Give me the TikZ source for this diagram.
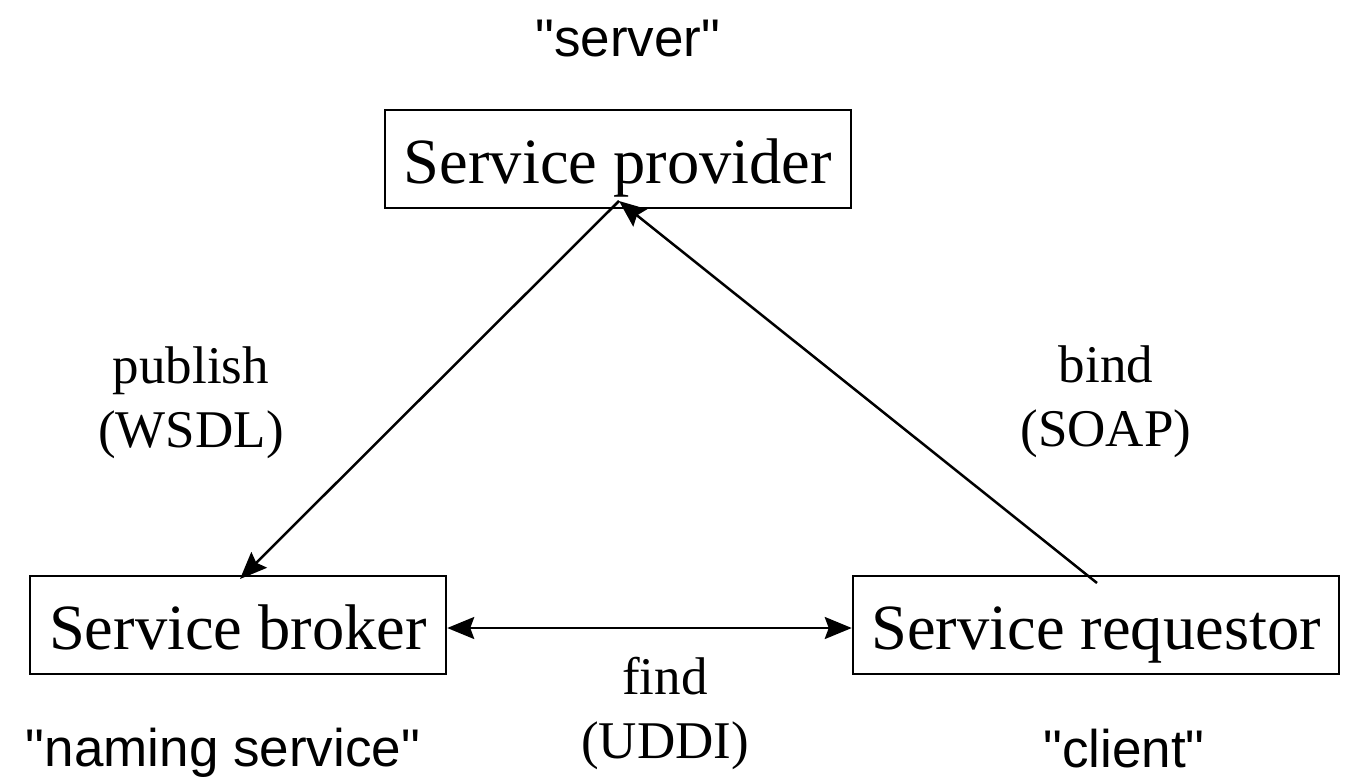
\documentclass[tikz,border=0pt]{standalone}
\usepackage{fontspec}
\setmainfont{Liberation Serif}
\setsansfont{Liberation Sans}
\usetikzlibrary{arrows.meta}
\newcommand{\qq}{\textquotedbl}
\begin{document}
\begin{tikzpicture}[x=1pt,y=-1pt,
  box/.style={draw,line width=2.5pt,inner sep=0pt,text height=54pt,text depth=6pt,font=\fontsize{64.5}{70}\selectfont},
  lbl/.style={align=center,font=\fontsize{53}{64}\selectfont},
  quote/.style={anchor=base,font=\sffamily\fontsize{53}{60}\selectfont},
  conn/.style={line width=2.5pt,-{Stealth[length=27pt,width=22pt,inset=4pt]}},
  conn2/.style={line width=2.5pt,{Stealth[length=27pt,width=22pt,inset=4pt]}-{Stealth[length=27pt,width=22pt,inset=4pt]}}]
\useasboundingbox (0,0) rectangle (1360,782);
\node[box,minimum width=466pt,minimum height=98pt] (prov) at (618,159) {Service provider};
\node[box,minimum width=416pt,minimum height=98pt] (brok) at (238,625) {Service broker};
\node[box,minimum width=486pt,minimum height=98pt] (req) at (1096,625) {Service requestor};
\node[quote] (qserver) at (628,56) {\qq server\qq};
\node[quote] (qnaming) at (223,766) {\qq naming service\qq};
\node[quote] (qclient) at (1124,767) {\qq client\qq};
\node[lbl] (publish) at (191,403) {publish\\(WSDL)};
\node[lbl] (bind) at (1106,402) {bind\\(SOAP)};
\node[lbl] (find) at (665,713) {find\\(UDDI)};
\coordinate (ptop) at (619,201);
\coordinate (bk) at (240,579);
\coordinate (rq) at (1097,583);
\draw[conn] (ptop) -- (bk);
\draw[conn] (rq) -- (ptop);
\draw[conn2] ([yshift=-3pt]brok.east) -- ([yshift=-3pt]req.west);
\end{tikzpicture}
\end{document}
